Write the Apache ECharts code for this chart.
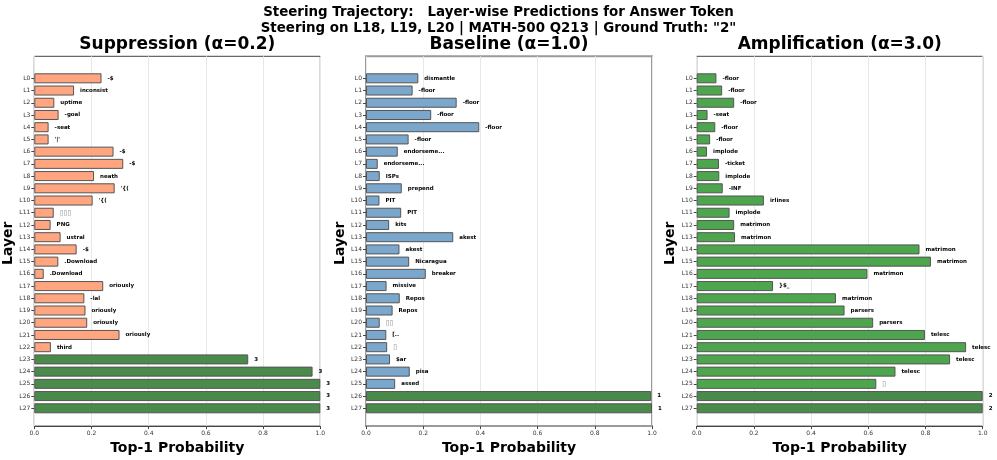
<!DOCTYPE html>
<html>
<head>
<meta charset="utf-8">
<script src="https://cdn.jsdelivr.net/npm/echarts@6/dist/echarts.min.js"></script>
<style>
  html, body { margin: 0; padding: 0; background: #fff; }
  #steeringChart { width: 997px; height: 460px; }
</style>
</head>
<body>
<div id="steeringChart"></div>
<script>
// layer names (y categories)
const layers = ['L0', 'L1', 'L2', 'L3', 'L4', 'L5', 'L6', 'L7', 'L8', 'L9',
  'L10', 'L11', 'L12', 'L13', 'L14', 'L15', 'L16', 'L17', 'L18', 'L19',
  'L20', 'L21', 'L22', 'L23', 'L24', 'L25', 'L26', 'L27'];

// Suppression (alpha=0.2)
const suppressionProb = [0.235, 0.139, 0.070, 0.085, 0.050, 0.050, 0.277, 0.311, 0.209, 0.281,
  0.204, 0.068, 0.057, 0.092, 0.148, 0.084, 0.033, 0.241, 0.175, 0.179,
  0.185, 0.298, 0.058, 0.748, 0.973, 1.0, 1.0, 1.0];
const suppressionToken = ['-$', 'inconsist', 'uptime', '-goal', '-seat', "'|'", '-$', '-$', 'neath', "'{(",
  "'{(", '▯▯▯', 'PNG', 'ustral', '-$', '.Download', '.Download', 'oriously', '-lal', 'oriously',
  'oriously', 'oriously', 'third', '3', '3', '3', '3', '3'];

// Baseline (alpha=1.0)
const baselineProb = [0.183, 0.163, 0.317, 0.228, 0.396, 0.149, 0.111, 0.041, 0.048, 0.125,
  0.047, 0.123, 0.081, 0.305, 0.117, 0.151, 0.209, 0.072, 0.118, 0.093,
  0.048, 0.071, 0.074, 0.084, 0.153, 0.102, 0.997, 1.0];
const baselineToken = ['dismantle', '-floor', '-floor', '-floor', '-floor', '-floor', 'endorseme...', 'endorseme...', 'ISPs', 'prepend',
  'PIT', 'PIT', 'kits', 'akest', 'akest', 'Nicaragua', 'breaker', 'missive', 'Repos', 'Repos',
  '▯▯', '[..', '▯', '$ar', 'pisa', 'assed', '1', '1'];

// Amplification (alpha=3.0)
const amplificationProb = [0.069, 0.089, 0.131, 0.038, 0.065, 0.047, 0.036, 0.078, 0.079, 0.091,
  0.235, 0.115, 0.131, 0.134, 0.779, 0.819, 0.597, 0.267, 0.487, 0.517,
  0.617, 0.798, 0.942, 0.886, 0.695, 0.628, 1.0, 1.0];
const amplificationToken = ['-floor', '-floor', '-floor', '-seat', '-floor', '-floor', 'implode', '-ticket', 'implode', '-INF',
  'irlines', 'implode', 'matrimon', 'matrimon', 'matrimon', 'matrimon', 'matrimon', '}$_', 'matrimon', 'parsers',
  'parsers', 'telesc', 'telesc', 'telesc', 'telesc', '▯', '2', '2'];

const panels = [
  { title: 'Suppression (α=0.2)', probs: suppressionProb, tokens: suppressionToken,
    color: '#ffa580', left: 34.3, frame: '#444', frameWidth: 1 },
  { title: 'Baseline (α=1.0)', probs: baselineProb, tokens: baselineToken,
    color: '#7ba7cc', left: 366, frame: '#9a9a9a', frameWidth: 2 },
  { title: 'Amplification (α=3.0)', probs: amplificationProb, tokens: amplificationToken,
    color: '#4da64d', left: 696.7, frame: '#444', frameWidth: 1 }
];

const plotW = 286;
const frameTop = 56.3, frameH = 374.4;
const barTop = 72.2, barH = 342.2;   // 28 bands, L0 / L27 centred like the reference
const digitGreen = '#4a8a4a';

let myChart = echarts.init(document.getElementById('steeringChart'));

let titles = [{
  text: 'Steering Trajectory:   Layer-wise Predictions for Answer Token\nSteering on L18, L19, L20 | MATH-500 Q213 | Ground Truth: "2"',
  left: 'center', top: 4, padding: 0,
  textStyle: { fontSize: 13.4, fontWeight: 'bold', lineHeight: 16.5, color: '#000' }
}];
let grids = [], xAxes = [], yAxes = [], series = [];

panels.forEach((p, i) => {
  titles.push({
    text: p.title, left: p.left + plotW / 2, textAlign: 'center', top: 35, padding: 0,
    textStyle: { fontSize: 17, fontWeight: 'bold', lineHeight: 20, color: '#000' }
  });

  // frame grid: border, x ticks, grid lines
  grids.push({ left: p.left, top: frameTop, width: plotW, height: frameH,
    show: true, borderColor: p.frame, borderWidth: p.frameWidth });
  xAxes.push({
    gridIndex: 2 * i, type: 'value', min: 0, max: 1, interval: 0.2,
    axisLine: { show: true, lineStyle: { color: p.frame, width: p.frameWidth } },
    axisTick: { show: true, length: 3, lineStyle: { color: '#444' } },
    axisLabel: { fontSize: 6, color: '#333', margin: 4, formatter: v => v.toFixed(1) },
    splitLine: { show: true, lineStyle: { color: '#e8e8e8', width: 1 } },
    name: 'Top-1 Probability', nameLocation: 'middle', nameGap: 10,
    nameTextStyle: { fontSize: 14, fontWeight: 'bold', color: '#000' }
  });
  yAxes.push({ gridIndex: 2 * i, type: 'value', show: false, min: 0, max: 1 });

  // bar grid
  grids.push({ left: p.left, top: barTop, width: plotW, height: barH });
  xAxes.push({ gridIndex: 2 * i + 1, type: 'value', min: 0, max: 1, show: false });
  yAxes.push({
    gridIndex: 2 * i + 1, type: 'category', data: layers, inverse: true,
    axisLine: { show: false },
    axisTick: { show: true, alignWithLabel: true, length: 3, lineStyle: { color: '#444' } },
    axisLabel: { fontSize: 6, color: '#333', margin: 4 },
    name: 'Layer', nameLocation: 'middle', nameGap: 18, nameRotate: 90,
    nameTextStyle: { fontSize: 14, fontWeight: 'bold', color: '#000' }
  });

  series.push({
    type: 'bar', xAxisIndex: 2 * i + 1, yAxisIndex: 2 * i + 1,
    barCategoryGap: '18%',
    data: p.probs.map((v, k) => {
      let tok = p.tokens[k];
      let isDigit = /^[0-9]$/.test(tok);
      let isBox = tok.indexOf('▯') >= 0;
      return {
        value: v,
        itemStyle: { color: isDigit ? digitGreen : p.color },
        label: isBox ? { color: '#888', fontWeight: 'normal', fontSize: 7 } : {}
      };
    }),
    itemStyle: { borderColor: '#555', borderWidth: 1 },
    label: {
      show: true, position: 'right', distance: 6,
      fontSize: 5.5, fontWeight: 'bold', color: '#000',
      formatter: params => p.tokens[params.dataIndex]
    },
    silent: true
  });
});

let options = {
  animation: false,
  textStyle: { fontFamily: 'DejaVu Sans' },
  title: titles,
  grid: grids,
  xAxis: xAxes,
  yAxis: yAxes,
  series: series
};
myChart.setOption(options);
</script>
</body>
</html>
